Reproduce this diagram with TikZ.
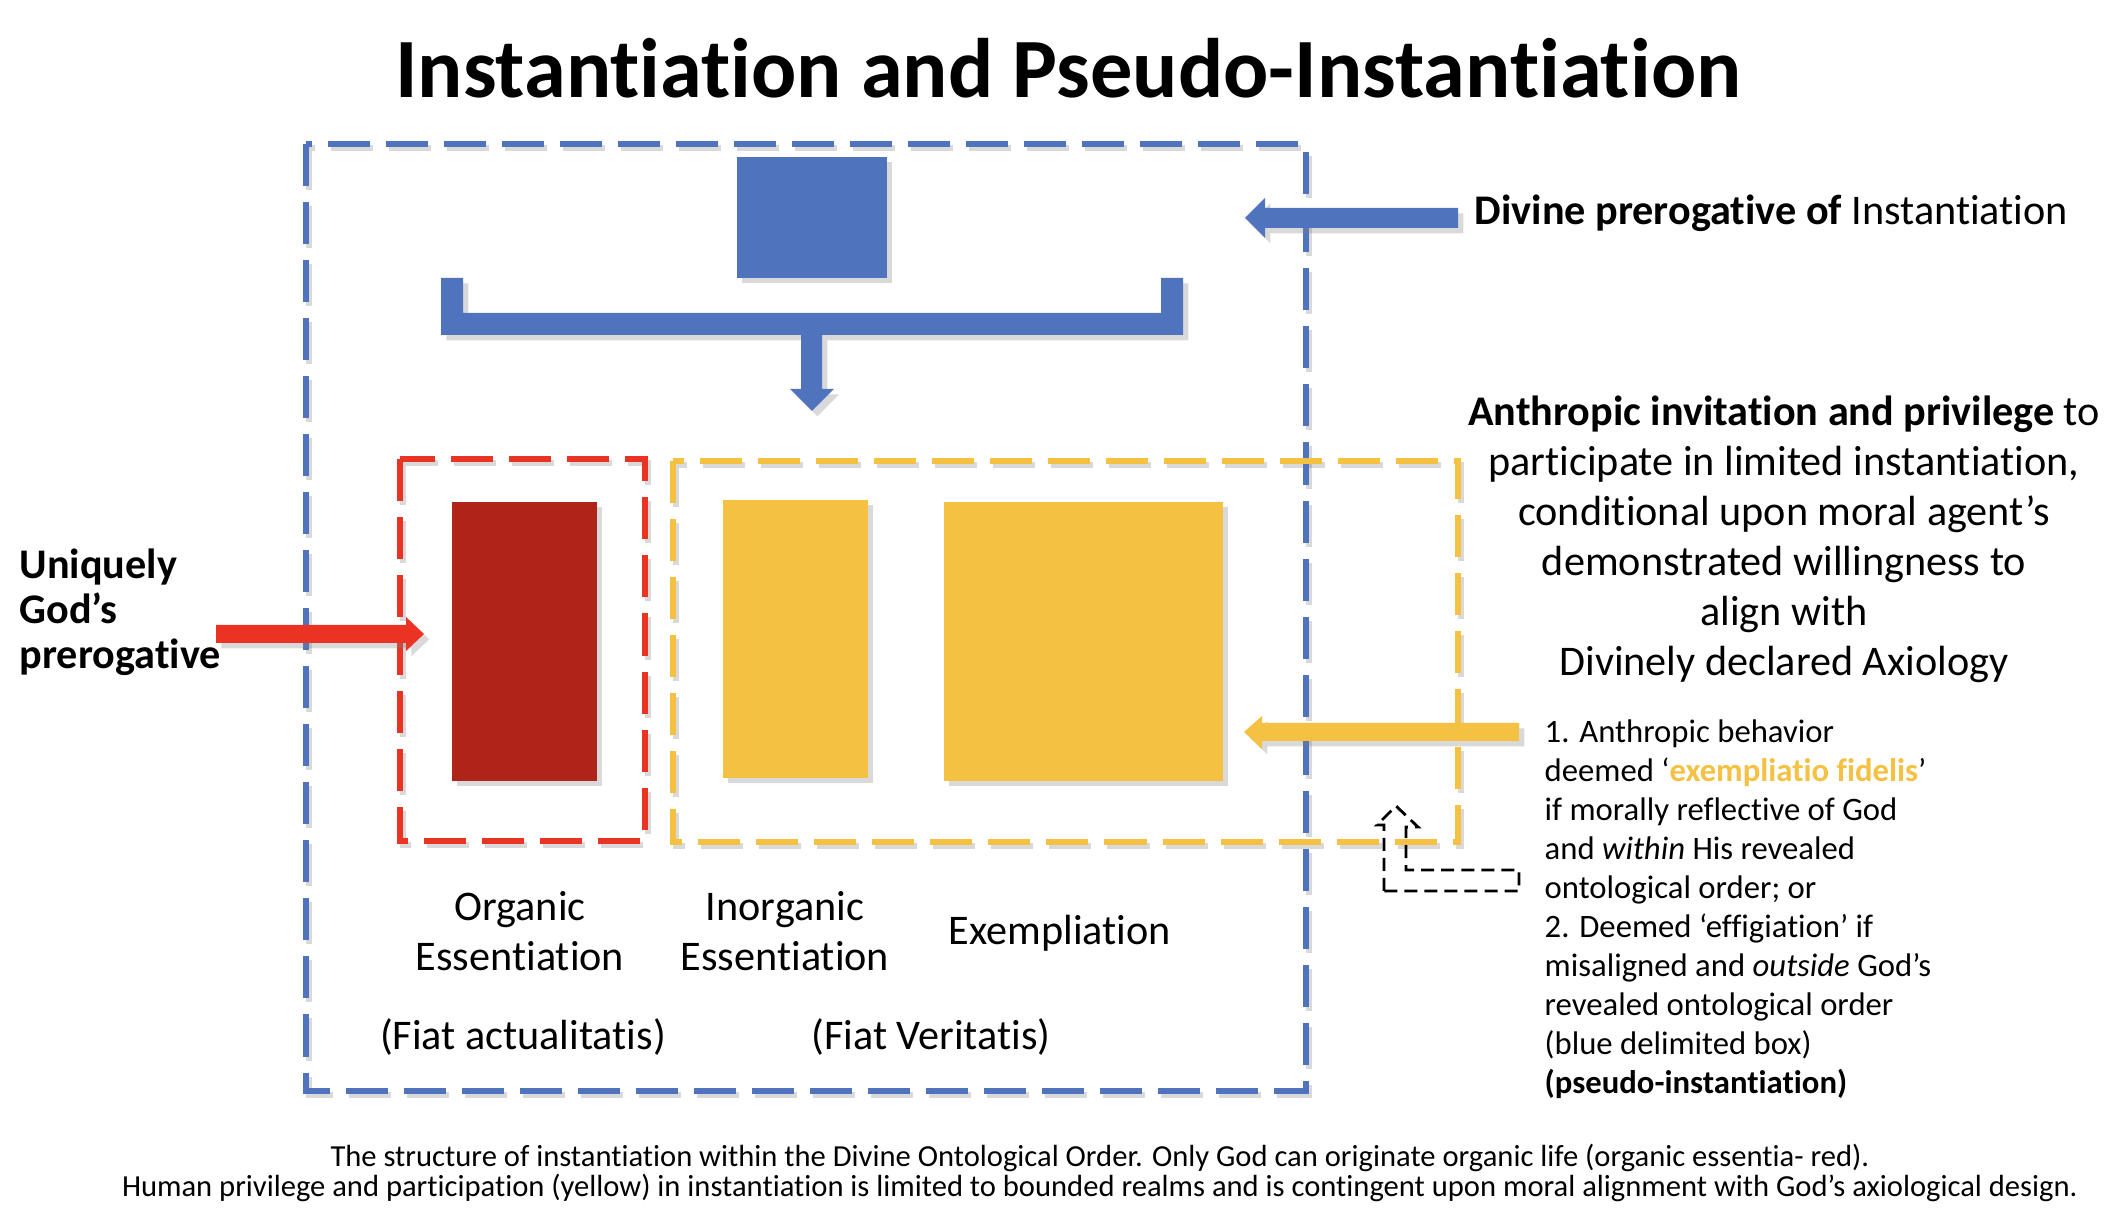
\documentclass[tikz,border=0pt]{standalone}
\usepackage{fontspec}
\setmainfont{Carlito}[Ligatures=NoCommon]
\usetikzlibrary{shadows}
\definecolor{godblue}{RGB}{80,115,190}
\definecolor{realmred}{RGB}{234,51,35}
\definecolor{organicred}{RGB}{175,35,25}
\definecolor{humanyellow}{RGB}{244,193,67}
\tikzset{
  realm/.style={line width=1.5pt, dash pattern=on 0.42cm off 0.16cm},
  realmshadow/.style={realm, black, opacity=.15},
  blockshadow/.style={drop shadow={opacity=.3, shadow xshift=1.5pt, shadow yshift=-1.5pt}},
  bodytext/.style={font=\fontsize{12}{14.2}\selectfont},
}

\begin{document}
\begin{tikzpicture}[x=0.01cm, y=-0.01cm]
    \useasboundingbox (0,0) rectangle (2126,1210);
    \node[anchor=base, font=\fontsize{24}{28}\selectfont\bfseries] (title) at (1068,98) {Instantiation and Pseudo-Instantiation};
    % realms
    \draw[realmshadow] (309,148) rectangle (1309,1095);
    \draw[realmshadow] (403,463) rectangle (648,845);
    \draw[realmshadow] (676,465) rectangle (1461,846);
    \draw[realm, godblue] (306,144) rectangle (1306,1091);
    \draw[realm, realmred] (400,459) rectangle (645,841);
    \draw[realm, humanyellow] (673,461) rectangle (1458,842);
    % divine source
    \fill[godblue, blockshadow] (737,157) rectangle (887,278);
    \fill[godblue, blockshadow] (441,278) -- (463,278) -- (463,313) -- (1161,313) -- (1161,278)
        -- (1183,278) -- (1183,335) -- (441,335) -- cycle;
    \fill[godblue, blockshadow] (801,335) -- (822,335) -- (822,389) -- (834,389) -- (812,411)
        -- (790,389) -- (801,389) -- cycle;
    \fill[godblue, blockshadow] (1458,208) -- (1265,208) -- (1265,198) -- (1245,218) -- (1265,238)
        -- (1265,228) -- (1458,228) -- cycle;
    % essentiae
    \fill[organicred, blockshadow] (452,502) rectangle (597,781);
    \fill[humanyellow, blockshadow] (723,500) rectangle (868,778);
    \fill[humanyellow, blockshadow] (944,502) rectangle (1223,781);
    \fill[realmred, blockshadow] (216,625) -- (406,625) -- (406,617) -- (424,634) -- (406,651)
        -- (406,643) -- (216,643) -- cycle;
    \fill[humanyellow, blockshadow] (1519,723) -- (1262,723) -- (1262,716) -- (1244,732) -- (1262,749)
        -- (1262,741) -- (1519,741) -- cycle;
    \draw[line width=0.8pt, dash pattern=on 3.7pt off 2pt] (1384,891) -- (1384,825) -- (1377,825)
        -- (1396,806) -- (1418,827) -- (1406,827) -- (1406,870) -- (1519,870) -- (1519,891) -- cycle;
    % texts
    \node[anchor=base west, inner sep=0, bodytext] (divine) at (1474,225) {\textbf{Divine prerogative of} Instantiation};
    \node[align=center, bodytext] (anthropic) at (1784,539) {\textbf{Anthropic invitation and privilege} to\\
        participate in limited instantiation,\\ conditional upon moral agent’s\\
        demonstrated willingness to\\ align with\\ Divinely declared Axiology};
    \node[align=left, anchor=west, inner sep=0, font=\fontsize{9.3}{11.1}\selectfont] (verdict) at (1544,909)
        {1. Anthropic behavior\\ deemed ‘\textcolor{humanyellow}{\textbf{exempliatio fidelis}}’\\
        if morally reflective of God\\ and \textit{within} His revealed\\ ontological order; or\\
        2. Deemed ‘effigiation’ if\\ misaligned and \textit{outside} God’s\\
        revealed ontological order\\ (blue delimited box)\\ \textbf{(pseudo-instantiation)}};
    \node[align=left, anchor=west, inner sep=0, font=\fontsize{12}{12.8}\selectfont\bfseries] (unique) at (19,612)
        {Uniquely\\ God’s\\ prerogative};
    \node[align=center, bodytext] (organic) at (520,931) {Organic\\ Essentiation};
    \node[align=center, bodytext] (inorganic) at (785,931) {Inorganic\\ Essentiation};
    \node[anchor=base, bodytext] (exempl) at (1060,945) {Exempliation};
    \node[anchor=base, bodytext] (actual) at (523,1050) {(Fiat actualitatis)};
    \node[anchor=base, bodytext] (veritas) at (931,1050) {(Fiat Veritatis)};
    \node[anchor=base, inner sep=0, font=\fontsize{8.7}{8}\selectfont] (caption1) at (1100,1167) {The structure of instantiation within the Divine Ontological Order. Only God can originate organic life (organic essentia- red).};
    \node[anchor=base, inner sep=0, font=\fontsize{8.7}{8}\selectfont] (caption2) at (1100,1197) {Human privilege and participation (yellow) in instantiation is limited to bounded realms and is contingent upon moral alignment with God’s axiological design.};
\end{tikzpicture}
\end{document}
